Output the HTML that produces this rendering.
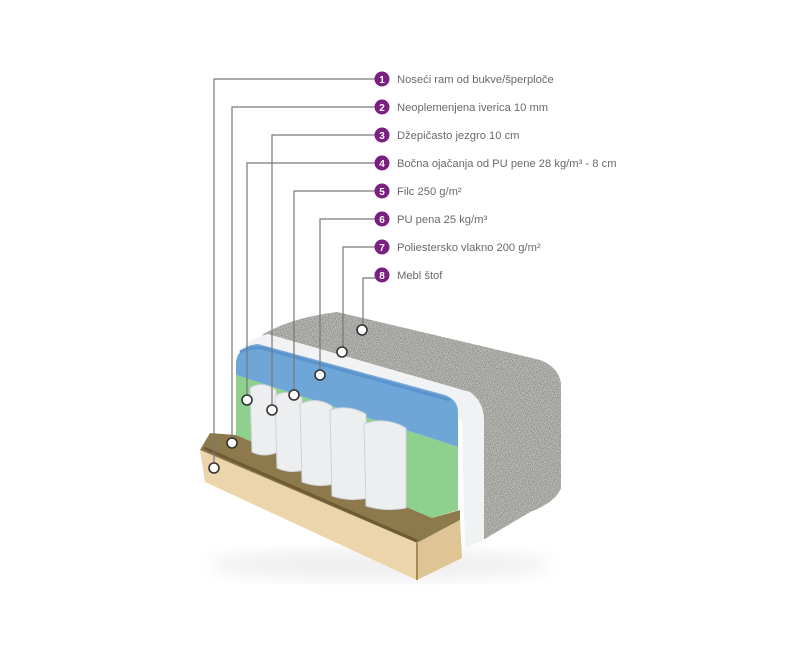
<!DOCTYPE html>
<html><head><meta charset="utf-8"><style>
html,body{margin:0;padding:0;background:#fff;}
svg{display:block;}
text{font-family:"Liberation Sans",sans-serif;}
</style></head><body>
<svg width="800" height="646" viewBox="0 0 800 646" xmlns="http://www.w3.org/2000/svg">
<defs>
<filter id="noise" x="0" y="0" width="100%" height="100%">
<feTurbulence type="fractalNoise" baseFrequency="1.2" numOctaves="2" seed="3" result="n"/>
<feColorMatrix in="n" type="matrix" values="0 0 0 0 0.3  0 0 0 0 0.3  0 0 0 0 0.28  0 0 0 2.2 -0.8" result="c"/>
<feComposite in="c" in2="SourceGraphic" operator="in" result="t"/>
<feTurbulence type="fractalNoise" baseFrequency="1.5" numOctaves="1" seed="9" result="n2"/>
<feColorMatrix in="n2" type="matrix" values="0 0 0 0 0.85  0 0 0 0 0.85  0 0 0 0 0.83  0 0 0 2.2 -0.9" result="c2"/>
<feComposite in="c2" in2="SourceGraphic" operator="in" result="t2"/>
<feMerge><feMergeNode in="SourceGraphic"/><feMergeNode in="t"/><feMergeNode in="t2"/></feMerge>
</filter>
<filter id="blur"><feGaussianBlur stdDeviation="8"/></filter>
</defs>
<ellipse cx="380" cy="565" rx="170" ry="16" fill="#ddd" opacity="0.45" filter="url(#blur)"/>
<path d="M262,335 Q290,318 337,312 L540,360 Q560,368 561,385 L561,488 Q556,502 530,512 L483,540 L470,420 Z" fill="#8e8c87" filter="url(#noise)"/>
<path d="M240,350 Q250,338 268,334 L470,392 Q484,402 484,420 L484,540 L465,548 L462,420 Z" fill="#f1f2f4"/>
<path d="M236,375 L236,362 Q238,346 258,344 L445,395 Q458,400 458,412 L458,447 Z" fill="#6fa6d8"/>
<path d="M240,352 Q250,347 262,348 L450,400" stroke="#5b94cc" stroke-width="3" fill="none"/>
<path d="M236,375 L458,447 L458,510 L432,518 L236,435 Z" fill="#8ed08e"/>
<path d="M200,450 L210,433 L236,435 L432,518 L460,510 L460,520 L417,543 Z" fill="#8d7a4c"/>
<path d="M204,448 L417,541" stroke="#6f5a34" stroke-width="3"/>
<g fill="#eceef0" stroke="#cfd2d6" stroke-width="1">
<path d="M250,388 Q262,380 276,390 L278,452 Q264,458 252,452 Z"/>
<path d="M275,396 Q288,388 302,398 L304,470 Q290,474 277,468 Z"/>
<path d="M300,404 Q316,396 332,406 L334,484 Q318,488 302,482 Z"/>
<path d="M330,410 Q348,404 366,414 L368,498 Q350,502 332,496 Z"/>
<path d="M364,424 Q385,416 406,428 L406,508 Q386,512 366,506 Z"/>
</g>
<path d="M200,450 L417,543 L417,580 L205,482 Z" fill="#ecd5ab"/>
<path d="M417,543 L460,520 L462,558 L417,580 Z" fill="#dfc595"/>
<path d="M417,543 L417,580" stroke="#a88a55" stroke-width="2"/>
<g stroke="#777" stroke-width="1.2" fill="none">
<polyline points="375,79 214,79 214,468"/>
<polyline points="375,107 232,107 232,443"/>
<polyline points="375,135 272,135 272,410"/>
<polyline points="375,163 247,163 247,400"/>
<polyline points="375,191 294,191 294,395"/>
<polyline points="375,219 320,219 320,375"/>
<polyline points="375,247 343,247 343,352"/>
<polyline points="375,278 363,278 363,330"/>
</g>
<g fill="#fff" stroke="#333" stroke-width="1.6">
<circle cx="214" cy="468" r="5"/><circle cx="232" cy="443" r="5"/>
<circle cx="272" cy="410" r="5"/><circle cx="247" cy="400" r="5"/>
<circle cx="294" cy="395" r="5"/><circle cx="320" cy="375" r="5"/>
<circle cx="342" cy="352" r="5"/><circle cx="362" cy="330" r="5"/>
</g>
<g fill="#7b1f80">
<circle cx="382" cy="79" r="7.5"/><circle cx="382" cy="107" r="7.5"/>
<circle cx="382" cy="135" r="7.5"/><circle cx="382" cy="163" r="7.5"/>
<circle cx="382" cy="191" r="7.5"/><circle cx="382" cy="219" r="7.5"/>
<circle cx="382" cy="247" r="7.5"/><circle cx="382" cy="275" r="7.5"/>
</g>
<g fill="#fff" font-size="10" font-weight="bold" text-anchor="middle">
<text x="382" y="83">1</text><text x="382" y="111">2</text><text x="382" y="139">3</text><text x="382" y="167">4</text>
<text x="382" y="195">5</text><text x="382" y="223">6</text><text x="382" y="251">7</text><text x="382" y="279">8</text>
</g>
<g fill="#6a6a6a" font-size="11.2">
<text x="397" y="83">Noseći ram od bukve/šperploče</text>
<text x="397" y="111">Neoplemenjena iverica 10 mm</text>
<text x="397" y="139">Džepičasto jezgro 10 cm</text>
<text x="397" y="167">Bočna ojačanja od PU pene 28 kg/m³ - 8 cm</text>
<text x="397" y="195">Filc 250 g/m²</text>
<text x="397" y="223">PU pena 25 kg/m³</text>
<text x="397" y="251">Poliestersko vlakno 200 g/m²</text>
<text x="397" y="279">Mebl štof</text>
</g>
</svg>
</body></html>
